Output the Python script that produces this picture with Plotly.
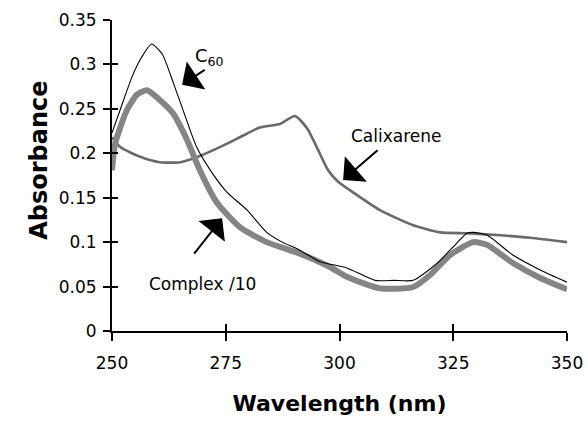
import plotly.graph_objects as go

# ---- data ----
c60_wl = [250, 251.8, 254.4, 256.5, 258.7, 261, 263.5, 266, 268.6, 272, 275.3, 279.7, 284, 287.4,
          291.3, 295.7, 301.6, 307.8, 312, 316.2, 321.4, 325.8, 328, 329.4, 332.4, 338.1, 344, 350]
c60_abs = [0.223, 0.249, 0.286, 0.308, 0.323, 0.312, 0.279, 0.243, 0.207, 0.178, 0.156, 0.136, 0.111, 0.100,
           0.091, 0.078, 0.071, 0.057, 0.057, 0.057, 0.076, 0.099, 0.110, 0.111, 0.108, 0.0855, 0.069, 0.055]

cpx_wl = [250, 250.7, 253.3, 255.5, 257.7, 260.5, 263.4, 266.5, 269.3, 273, 278.1, 284, 291.3,
          297.9, 301.6, 308.9, 316.2, 319.9, 324.3, 329.4, 332.4, 338.1, 344, 350]
cpx_abs = [0.181, 0.211, 0.249, 0.266, 0.271, 0.260, 0.245, 0.215, 0.181, 0.145, 0.117, 0.100, 0.087,
           0.072, 0.061, 0.048, 0.0495, 0.063, 0.0855, 0.100, 0.097, 0.0765, 0.060, 0.047]

cal_wl = [250, 251.8, 256.2, 260.5, 265, 269.3, 273.7, 278.1, 282.5, 286.9, 290.2, 292.9, 295,
          297.5, 299.7, 303, 308.9, 316.2, 322.1, 328, 334.6, 341.9, 350]
cal_abs = [0.218, 0.207, 0.196, 0.190, 0.190, 0.197, 0.207, 0.218, 0.229, 0.233, 0.242, 0.228, 0.207,
           0.181, 0.168, 0.156, 0.136, 0.119, 0.111, 0.110, 0.108, 0.105, 0.100]

x_ticks = [250, 275, 300, 325, 350]
y_ticks = [0, 0.05, 0.1, 0.15, 0.2, 0.25, 0.3, 0.35]
y_tick_text = ["0", "0.05", "0.1", "0.15", "0.2", "0.25", "0.3", "0.35"]

X_RANGE = [250, 350]
Y_RANGE = [0, 0.35]

fig = go.Figure()
fig.add_trace(go.Scatter(x=cal_wl, y=cal_abs, mode="lines", name="Calixarene",
                         line=dict(color="#6a6a6a", width=2.6, shape="spline", smoothing=0.6)))
fig.add_trace(go.Scatter(x=cpx_wl, y=cpx_abs, mode="lines", name="Complex /10",
                         line=dict(color="#858585", width=6, shape="spline", smoothing=0.6)))
fig.add_trace(go.Scatter(x=c60_wl, y=c60_abs, mode="lines", name="C60",
                         line=dict(color="#000000", width=1.1, shape="spline", smoothing=0.6)))
# overlay axes carry the inner half of the crossing ticks
fig.add_trace(go.Scatter(x=[], y=[], xaxis="x2", yaxis="y2", showlegend=False, hoverinfo="skip"))

tick_font = dict(family="DejaVu Sans", size=17, color="black")
title_font = dict(family="DejaVu Sans", size=22, color="black", weight="bold")

fig.update_layout(
    width=587, height=421,
    margin=dict(l=112, r=20, t=20, b=90, autoexpand=False),
    paper_bgcolor="white", plot_bgcolor="white",
    showlegend=False,
    xaxis=dict(range=X_RANGE, tickvals=x_ticks, ticks="outside", ticklen=8, tickwidth=1.5,
               tickcolor="black", showline=True, linecolor="black", linewidth=2,
               showgrid=False, zeroline=False, tickfont=tick_font, ticklabelstandoff=8,
               automargin=False,
               title=dict(text="Wavelength (nm)", font=title_font, standoff=23)),
    yaxis=dict(range=Y_RANGE, tickvals=y_ticks, ticktext=y_tick_text, ticks="outside", ticklen=7,
               tickwidth=1.5, tickcolor="black", showline=True, linecolor="black", linewidth=2,
               showgrid=False, zeroline=False, tickfont=tick_font, ticklabelstandoff=3,
               automargin=False),
    xaxis2=dict(range=X_RANGE, tickvals=x_ticks, ticks="inside", ticklen=7, tickwidth=1.5,
                tickcolor="black", showticklabels=False, showgrid=False, zeroline=False,
                overlaying="x", side="bottom", showline=False),
    yaxis2=dict(range=Y_RANGE, tickvals=y_ticks, ticks="inside", ticklen=6, tickwidth=1.5,
                tickcolor="black", showticklabels=False, showgrid=False, zeroline=False,
                overlaying="y", side="left", showline=False),
)

# y-axis title (placed slightly above centre, as in the reference)
fig.add_annotation(xref="paper", yref="paper", x=-0.196, y=0.55, text="Absorbance",
                   textangle=-90, showarrow=False,
                   font=dict(family="DejaVu Sans", size=24, color="black", weight="bold"))

ann_font = dict(family="DejaVu Sans", size=17, color="black")
# text labels
fig.add_annotation(x=271.5, y=0.308, text="C<sub>60</sub>", showarrow=False,
                   font=dict(family="DejaVu Sans", size=18, color="black"))
fig.add_annotation(x=312.6, y=0.219, text="Calixarene", showarrow=False, font=ann_font)
fig.add_annotation(x=269.8, y=0.053, text="Complex /10", showarrow=False, font=ann_font)
# arrows (tip at x,y; tail at ax,ay in data units)
for tip_x, tip_y, tail_x, tail_y in [(265.4, 0.277, 270.7, 0.295),
                                     (300.8, 0.170, 308.7, 0.205),
                                     (274.2, 0.127, 267.8, 0.0855)]:
    fig.add_annotation(x=tip_x, y=tip_y, ax=tail_x, ay=tail_y, axref="x", ayref="y",
                       text="", showarrow=True, arrowhead=1, arrowsize=2.8, arrowwidth=2,
                       arrowcolor="black")

fig.write_html("out.html")
